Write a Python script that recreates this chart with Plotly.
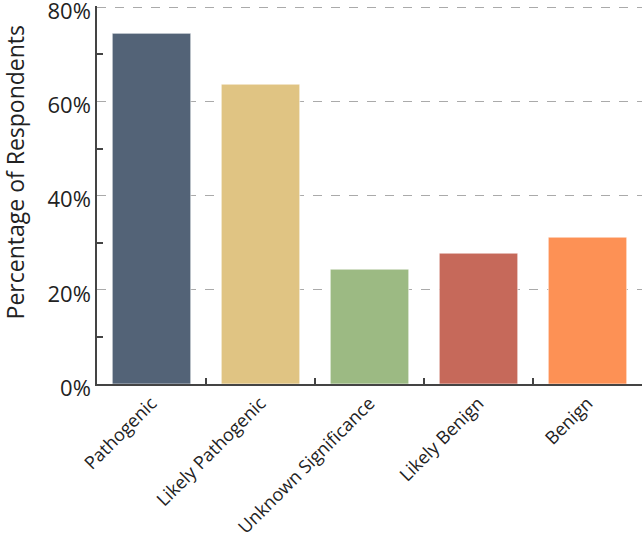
import plotly.graph_objects as go

categories = ["Pathogenic", "Likely Pathogenic", "Unknown Significance", "Likely Benign", "Benign"]
values = [74.5, 63.7, 24.4, 27.8, 31.2]
colors = ["#536377", "#E0C483", "#9CBA83", "#C6695A", "#FD9155"]
ytickvals = [0, 20, 40, 60, 80]
yticktext = ["0%", "20%", "40%", "60%", "80%"]

fig = go.Figure()
fig.add_trace(go.Bar(
    x=categories, y=values,
    marker=dict(color=colors, line=dict(color="rgba(255,255,255,0.6)", width=1)),
    width=0.72,
    hovertemplate="%{x}: %{y:.1f}%<extra></extra>",
))

fig.update_layout(
    width=643, height=538,
    margin=dict(l=97, r=1, t=6, b=154),
    plot_bgcolor="white", paper_bgcolor="white",
    font=dict(family="Open Sans, Noto Sans, sans-serif", color="#222"),
    showlegend=False,
    bargap=0.28,
)
fig.add_annotation(
    text="Percentage of Respondents", textangle=-90,
    xref="paper", yref="paper", x=-0.151, y=0.559,
    xanchor="center", yanchor="middle", showarrow=False,
    font=dict(size=23, color="#222"),
)
fig.update_xaxes(
    range=[-0.5, 4.5],
    automargin=False,
    showline=True, linecolor="#444", linewidth=1.5,
    ticks="inside", ticklen=6, tickcolor="#444", tickwidth=1.5,
    tickson="boundaries",
    tickangle=-45,
    tickfont=dict(size=18, color="#222"),
    showgrid=False,
)
fig.update_yaxes(
    range=[0, 80.3],
    automargin=False,
    tickvals=ytickvals, ticktext=yticktext,
    ticklabeloverflow="allow",
    ticklabelshift=4,
    showline=True, linecolor="#444", linewidth=1.5,
    ticks="",
    minor=dict(ticks="inside", tickvals=[10, 30, 50, 70], ticklen=6, tickcolor="#444", tickwidth=1.5, showgrid=False),
    showgrid=True, gridcolor="#aaaaaa", griddash="dash", gridwidth=1,
    tickfont=dict(size=22, color="#222"),
    zeroline=False,
)

fig.write_html("out.html")
